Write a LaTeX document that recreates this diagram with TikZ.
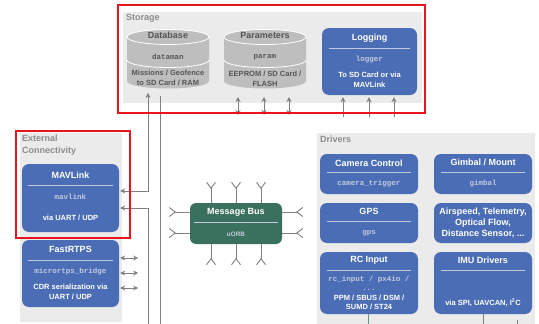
\documentclass[tikz,border=0pt]{standalone}
\usepackage{fontspec}
\setmainfont{Liberation Sans}
\setmonofont{Liberation Mono}
\usetikzlibrary{calc,arrows.meta}

\definecolor{pxblue}{RGB}{74,109,181}
\definecolor{pxgreen}{RGB}{58,112,94}
\definecolor{pxpanel}{RGB}{235,235,235}
\definecolor{pxdisk}{RGB}{190,190,190}
\definecolor{pxdark}{RGB}{85,85,85}
\definecolor{pxlabel}{RGB}{140,140,140}
\definecolor{pxline}{RGB}{128,128,128}
\definecolor{pxcode}{RGB}{196,202,220}
\definecolor{pxred}{RGB}{230,22,28}
\definecolor{pxteal}{RGB}{95,150,135}

\tikzset{
  panel/.style={fill=pxpanel, draw=none},
  paneltitle/.style={anchor=north west, inner sep=0pt, text=pxlabel, align=left,
    font=\fontsize{9}{11.5}\selectfont\bfseries},
  module/.style={fill=pxblue, draw=none, rounded corners=7pt, inner sep=0pt},
  bus/.style={fill=pxgreen, draw=none, rounded corners=6pt, inner sep=0pt},
  modtitle/.style={text=white, inner sep=0pt, align=center,
    font=\fontsize{9}{11}\selectfont\bfseries},
  modcode/.style={text=pxcode, inner sep=0pt, font=\fontsize{7.5}{9}\selectfont\ttfamily\bfseries},
  modtext/.style={text=white, inner sep=0pt, align=center,
    font=\fontsize{7.5}{10}\selectfont\bfseries},
  modrule/.style={draw=pxcode, line width=0.8pt},
  disktitle/.style={text=pxdark, inner sep=0pt, font=\fontsize{9}{11}\selectfont\bfseries},
  diskcode/.style={text=pxdark, inner sep=0pt, font=\fontsize{7.5}{9}\selectfont\ttfamily\bfseries},
  disktext/.style={text=pxdark, inner sep=0pt, align=center,
    font=\fontsize{7.5}{9.5}\selectfont\bfseries},
  redframe/.style={draw=pxred, line width=2pt},
  wire/.style={draw=pxline, line width=0.9pt},
  link/.style={wire, -{Stealth[length=5pt,width=5pt]}},
  dlink/.style={wire, {Stealth[length=5pt,width=5pt]}-{Stealth[length=5pt,width=5pt]}},
  stub/.style={wire, -{Straight Barb[reversed,length=6pt,width=9pt]}},
}

\begin{document}
\begin{tikzpicture}[x=1pt,y=-1pt]
  \useasboundingbox (0,0) rectangle (539,324);

  % Storage panel
  \fill[panel] (123,12) rectangle (422,103);
  \node[paneltitle] (storage) at (126,14) {Storage};

  % Draw the two disks
  \foreach \cx/\nm in {168/db,265/par} {
    \fill[pxdisk] (\cx-41,37) -- (\cx-41,81)
      arc[start angle=180, end angle=0, x radius=41, y radius=7.5] -- (\cx+41,37) -- cycle;
    \draw[white, line width=0.8pt] (\cx-41,60)
      arc[start angle=180, end angle=0, x radius=41, y radius=7.5];
    \filldraw[fill=pxdisk, draw=white, line width=0.8pt] (\cx,37) ellipse[x radius=41, y radius=7.5];
    \coordinate (\nm) at (\cx,59);
  }
  \node[disktitle] (dbname) at ($(db)+(0,-24)$) {Database};
  \node[diskcode] (dbcode) at ($(db)+(0,-2)$) {dataman};
  \node[disktext] (dbtext) at ($(db)+(0,19)$) {Missions / Geofence\\to SD Card / RAM};
  \node[disktitle] (parname) at ($(par)+(0,-24)$) {Parameters};
  \node[diskcode] (parcode) at ($(par)+(0,-2)$) {param};
  \node[disktext] (partext) at ($(par)+(0,20)$) {EEPROM / SD Card /\\FLASH};

  % Logging
  \node[module, minimum width=95pt, minimum height=67pt] (logging) at (369.5,61.5) {};
  \node[modtitle] at ($(logging.north)+(0,10)$) {Logging};
  \draw[modrule] ($(logging.north west)+(7,21)$) -- ($(logging.north east)+(-7,21)$);
  \node[modcode] at ($(logging.north)+(0,32)$) {logger};
  \node[modtext] at ($(logging.north)+(0,52)$) {To SD Card or via\\MAVLink};

  % External connectivity panel
  \fill[panel] (20,133) rectangle (122,322);
  \node[paneltitle] (extern) at (22,135) {External\\Connectivity};

  \node[module, minimum width=97pt, minimum height=68pt] (mavlink) at (70.5,198) {};
  \node[modtitle] at ($(mavlink.north)+(0,11)$) {MAVLink};
  \draw[modrule] ($(mavlink.north west)+(6,22)$) -- ($(mavlink.north east)+(-6,22)$);
  \node[modcode] at ($(mavlink.north)+(0,33)$) {mavlink};
  \node[modtext] at ($(mavlink.north)+(0,54)$) {via UART / UDP};

  \node[module, minimum width=97pt, minimum height=67pt] (fastrtps) at (70.5,273.5) {};
  \node[modtitle] at ($(fastrtps.north)+(0,10)$) {FastRTPS};
  \draw[modrule] ($(fastrtps.north west)+(6,21)$) -- ($(fastrtps.north east)+(-6,21)$);
  \node[modcode] at ($(fastrtps.north)+(0,32)$) {micrortps\_bridge};
  \node[modtext] at ($(fastrtps.north)+(0,52)$) {CDR serialization via\\UART / UDP};

  % Connections between storage and MAVLink
  \coordinate (dbport) at (148,93);
  \coordinate (dbfoot) at (160,96);
  \coordinate (busleft) at (148,324);
  \coordinate (busright) at (160,324);
  \draw[dlink] (dbport) |- ($(mavlink.east)+(1,-7)$);
  \draw[link] (busleft) |- ($(mavlink.east)+(1,10)$);
  \draw[wire] (dbfoot) -- (busright);

  % FastRTPS ports
  \foreach \dy in {-15.5,-0.5,14.5} {
    \draw[dlink] ($(fastrtps.east)+(1,\dy)$) -- ++(18,0);
  }

  % Parameter and logging ports
  \foreach \x in {238,264,289} {
    \draw[dlink] (\x,97) -- (\x,115);
  }
  \foreach \dx in {-26.5,-0.5,24.5} {
    \draw[link] ($(logging.south)+(\dx,22)$) -- ($(logging.south)+(\dx,2)$);
  }

  \draw[redframe] (118,5) rectangle (425,113);
  \draw[redframe] (16,131) rectangle (130,238);

  % Message bus
  \node[bus, minimum width=92pt, minimum height=41pt] (msgbus) at (236,223.5) {};
  \node[modtitle] at ($(msgbus.north)+(0,10)$) {Message Bus};
  \draw[modrule] ($(msgbus.north west)+(4,20)$) -- ($(msgbus.north east)+(-4,20)$);
  \node[modtext, font=\fontsize{6.4}{8}\selectfont\bfseries, text=pxcode] at ($(msgbus.north)+(0,31)$) {uORB};
  \foreach \dx in {-25,0,25} {
    \draw[stub] ($(msgbus.north)+(\dx,0)$) -- ++(0,-21);
    \draw[stub] ($(msgbus.south)+(\dx,0)$) -- ++(0,21);
  }
  \foreach \dy in {-11.5,9.5} {
    \draw[stub] ($(msgbus.west)+(0,\dy)$) -- ++(-21,0);
    \draw[stub] ($(msgbus.east)+(0,\dy)$) -- ++(21,0);
  }

  % Drivers panel
  \fill[panel] (317,133) rectangle (535,324);
  \node[paneltitle] (drivers) at (320,136) {Drivers};

  \foreach \nm/\pos/\ttl/\code in {cam/{369,174}/{Camera Control}/camera\_trigger,
                                   gim/{483,174}/{Gimbal / Mount}/gimbal,
                                   gps/{369,223}/GPS/gps} {
    \node[module, minimum width=98pt, minimum height=40pt] (\nm) at (\pos) {};
    \node[modtitle] at ($(\nm.north)+(0,9)$) {\ttl};
    \draw[modrule] ($(\nm.north west)+(7,19)$) -- ($(\nm.north east)+(-7,19)$);
    \node[modcode] at ($(\nm.north)+(0,30)$) {\code};
  }
  \node[module, minimum width=98pt, minimum height=40pt] (sensors) at (483,223) {};
  \node[modtitle, font=\fontsize{9}{11}\selectfont\bfseries] at (sensors)
    {Airspeed, Telemetry,\\Optical Flow,\\Distance Sensor, ...};

  \node[module, minimum width=98pt, minimum height=62pt] (rcin) at (369,283) {};
  \node[modtitle] at ($(rcin.north)+(0,8)$) {RC Input};
  \draw[modrule] ($(rcin.north west)+(7,19)$) -- ($(rcin.north east)+(-7,19)$);
  \node[modcode, align=center, font=\fontsize{7.5}{9}\selectfont\ttfamily\bfseries]
    at ($(rcin.north)+(0,31.5)$) {rc\_input / px4io /\\...};
  \node[modtext, font=\fontsize{7.5}{9}\selectfont\bfseries] at ($(rcin.north)+(0,50.5)$)
    {PPM / SBUS / DSM /\\SUMD / ST24};

  \node[module, minimum width=98pt, minimum height=62pt] (imu) at (483,283) {};
  \node[modtitle] at ($(imu.north)+(0,8)$) {IMU Drivers};
  \draw[modrule] ($(imu.north west)+(7,19)$) -- ($(imu.north east)+(-7,19)$);
  \node[modtext] at ($(imu.north)+(0,51)$) {via SPI, UAVCAN, I\textsuperscript{2}C};

  % Lines leaving the drivers
  \draw[pxteal, line width=0.9pt] ($(rcin.south)+(-1,0)$) -- ++(0,10);
  \draw[wire] (imu.south) -- ++(0,10);
  \draw[wire] (517,320) -- (517,324);
\end{tikzpicture}
\end{document}
